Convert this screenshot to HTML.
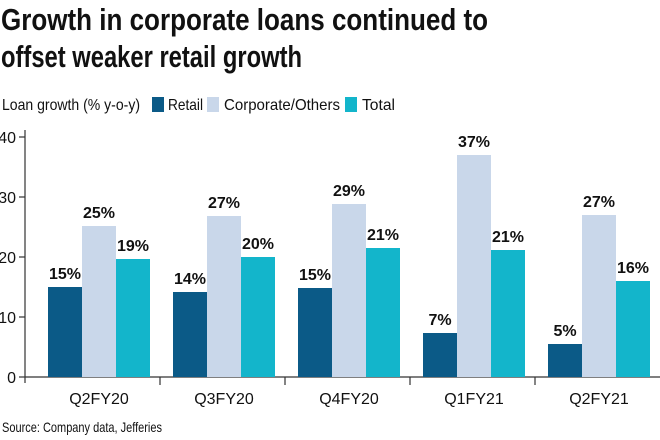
<!DOCTYPE html><html><head><style>body{margin:0;background:#fff}svg{display:block}text{font-family:"Liberation Sans Narrow","Liberation Sans",sans-serif;fill:#111}</style></head><body>
<svg width="660" height="440" viewBox="0 0 660 440">
<text x="1" y="30" font-size="31" font-weight="bold" textLength="487" lengthAdjust="spacingAndGlyphs">Growth in corporate loans continued to</text>
<text x="1" y="67" font-size="31" font-weight="bold" textLength="301" lengthAdjust="spacingAndGlyphs">offset weaker retail growth</text>
<text x="2" y="110" font-size="16" textLength="138" lengthAdjust="spacingAndGlyphs">Loan growth (% y-o-y)</text>
<rect x="152" y="97" width="12" height="15" fill="#0b5a87"/><text x="168" y="110" font-size="16" textLength="35" lengthAdjust="spacingAndGlyphs">Retail</text>
<rect x="207" y="97" width="12" height="15" fill="#c9d7ea"/><text x="224" y="110" font-size="16" textLength="116" lengthAdjust="spacingAndGlyphs">Corporate/Others</text>
<rect x="345" y="97" width="12" height="15" fill="#13b5cb"/><text x="362" y="110" font-size="16" textLength="33" lengthAdjust="spacingAndGlyphs">Total</text>
<g stroke="#333" stroke-width="1.2">
<line x1="25" y1="130" x2="25" y2="383"/><line x1="25" y1="377" x2="660" y2="377"/>
<line x1="19" y1="137" x2="25" y2="137"/><line x1="19" y1="197" x2="25" y2="197"/><line x1="19" y1="257" x2="25" y2="257"/><line x1="19" y1="317" x2="25" y2="317"/><line x1="19" y1="377" x2="25" y2="377"/>
<line x1="160" y1="377" x2="160" y2="385"/><line x1="285" y1="377" x2="285" y2="385"/><line x1="410" y1="377" x2="410" y2="385"/><line x1="535" y1="377" x2="535" y2="385"/>
</g>
<g font-size="16" text-anchor="end"><text x="16" y="143">40</text><text x="16" y="203">30</text><text x="16" y="263">20</text><text x="16" y="323">10</text><text x="16" y="383">0</text></g>
<g font-size="16" text-anchor="middle"><text x="99" y="404">Q2FY20</text><text x="224" y="404">Q3FY20</text><text x="349" y="404">Q4FY20</text><text x="474" y="404">Q1FY21</text><text x="599" y="404">Q2FY21</text></g>
<text x="2" y="432" font-size="14" textLength="160" lengthAdjust="spacingAndGlyphs">Source: Company data, Jefferies</text>
<g id="bars"></g>
<g fill="#0b5a87"><rect x="48" y="287" width="34" height="90"/><rect x="173" y="292" width="34" height="85"/><rect x="298" y="288" width="34" height="89"/><rect x="423" y="333" width="34" height="44"/><rect x="548" y="344" width="34" height="33"/></g>
<g fill="#c9d7ea"><rect x="82" y="226" width="34" height="151"/><rect x="207" y="216" width="34" height="161"/><rect x="332" y="204" width="34" height="173"/><rect x="457" y="155" width="34" height="222"/><rect x="582" y="215" width="34" height="162"/></g>
<g fill="#13b5cb"><rect x="116" y="259" width="34" height="118"/><rect x="241" y="257" width="34" height="120"/><rect x="366" y="248" width="34" height="129"/><rect x="491" y="250" width="34" height="127"/><rect x="616" y="281" width="34" height="96"/></g>
<g font-size="16" font-weight="bold" text-anchor="middle">
<text x="65" y="279">15%</text><text x="99" y="218">25%</text><text x="133" y="251">19%</text>
<text x="190" y="284">14%</text><text x="224" y="208">27%</text><text x="258" y="249">20%</text>
<text x="315" y="280">15%</text><text x="349" y="196">29%</text><text x="383" y="240">21%</text>
<text x="440" y="325">7%</text><text x="474" y="147">37%</text><text x="508" y="242">21%</text>
<text x="565" y="336">5%</text><text x="599" y="207">27%</text><text x="633" y="273">16%</text>
</g>
</svg></body></html>
